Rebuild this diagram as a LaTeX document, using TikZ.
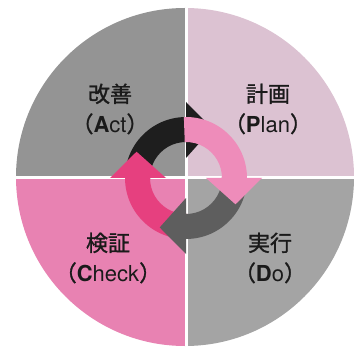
\documentclass[tikz,border=0pt]{standalone}
\usepackage{fontspec}
\newfontfamily\jp{Noto Sans CJK JP}[FakeBold=1.2]
\newfontfamily\lat{TeX Gyre Heros}
\definecolor{qtl}{HTML}{949494}
\definecolor{qtr}{HTML}{DCC2D2}
\definecolor{qbl}{HTML}{E882B2}
\definecolor{qbr}{HTML}{A4A4A4}
\definecolor{arblack}{HTML}{1E1E1E}
\definecolor{arlpink}{HTML}{EE8CBA}
\definecolor{argray}{HTML}{5E5E5E}
\definecolor{arhpink}{HTML}{E6407F}
\definecolor{txt}{HTML}{1A1A1A}
\newcommand\cyclearrow[2]{%
  \fill[#1] (#2+92:61) arc[start angle=#2+92, end angle=#2, radius=61]
    -- (#2:76) -- (#2-28:56) -- (#2:20) -- (#2:36)
    arc[start angle=#2, end angle=#2+92, radius=36] -- cycle;}
\tikzset{lbl/.style={align=center, font=\jp\fontsize{22}{30}\selectfont, text=txt, inner sep=0pt}}
\begin{document}
\begin{tikzpicture}[x=1pt,y=1pt]
\useasboundingbox (0,0) rectangle (355,348);
\fill[white] (0,0) rectangle (355,348);
\begin{scope}
  \clip (185,171) circle[radius=169];
  \fill[qtl] (0,170) rectangle (186,348);
  \fill[qtr] (186,170) rectangle (355,348);
  \fill[qbl] (0,0) rectangle (186,170);
  \fill[qbr] (186,0) rectangle (355,170);
  \draw[white, line width=3pt] (186,0) -- (186,348);
  \draw[white, line width=3pt] (0,170) -- (355,170);
\end{scope}
\begin{scope}[shift={(186,170)}]
  \cyclearrow{arblack}{90}
  \cyclearrow{arhpink}{180}
  \cyclearrow{argray}{-90}
  \cyclearrow{arlpink}{0}
\end{scope}
\node[lbl] (act) at (110,239) {改善\\（{\lat\bfseries A}{\lat ct}）};
\node[lbl] (plan) at (268,239) {計画\\（{\lat\bfseries P}{\lat lan}）};
\node[lbl] (check) at (108,90) {検証\\（{\lat\bfseries C}{\lat heck}）};
\node[lbl] (do) at (270,90) {実行\\（{\lat\bfseries D}{\lat o}）};
\end{tikzpicture}
\end{document}
